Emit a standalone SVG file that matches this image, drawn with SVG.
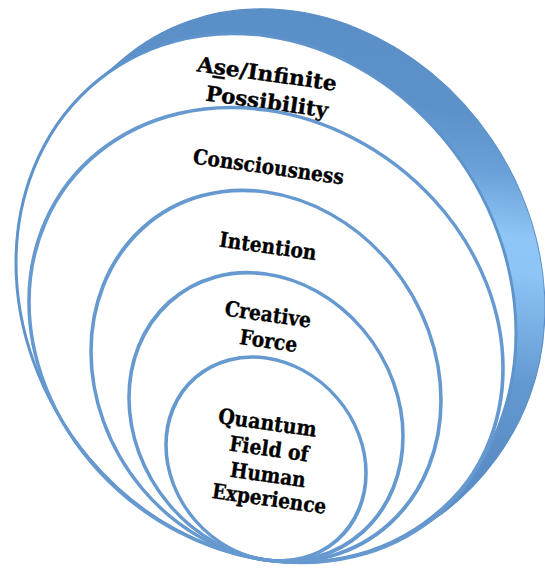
<svg xmlns="http://www.w3.org/2000/svg" width="545" height="569" viewBox="0 0 545 569">
<defs>
<linearGradient id="bandGrad" gradientUnits="userSpaceOnUse" x1="0" y1="0" x2="0" y2="560">
<stop offset="0" stop-color="#5a8ec7"/>
<stop offset="0.15" stop-color="#5c91ca"/>
<stop offset="0.25" stop-color="#6aa1d8"/>
<stop offset="0.36" stop-color="#8ec6f8"/>
<stop offset="0.42" stop-color="#8dc5f7"/>
<stop offset="0.52" stop-color="#78b0e5"/>
<stop offset="0.62" stop-color="#6399d1"/>
<stop offset="0.75" stop-color="#5b8ec7"/>
<stop offset="1" stop-color="#5a8cc5"/>
</linearGradient>
<style>
.ring{fill:none;stroke:#6699cf;stroke-width:3.6}
.front{fill:#ffffff;stroke:#5f93cb;stroke-width:3}
.band{fill:url(#bandGrad);stroke:#5b8dc5;stroke-width:1}
.lbl{font-family:"DejaVu Serif","Liberation Serif",serif;font-weight:bold;font-size:21px;fill:#000000;stroke:#000000;stroke-width:0.35;text-anchor:middle}
</style>
</defs>
<rect width="545" height="569" fill="#ffffff"/>
<g id="node-ase">
<g transform="translate(266 0) skewY(8) translate(-266 0)">
<path class="band" d="M 93.4 108.5 L 122.4 79.5 A 250 262 0 0 1 529.9 358.6 C 497.2 453.1 409.6 541.3 300.8 557.4 A 250 262 0 0 1 93.4 108.5 Z"/>
<ellipse class="front" cx="266" cy="298" rx="250" ry="262"/>
</g>
<text class="lbl" x="266" y="81" textLength="141" lengthAdjust="spacingAndGlyphs" transform="rotate(8 266 81)">A<tspan text-decoration="underline">s</tspan>e/Infinite</text>
<text class="lbl" x="266" y="109" textLength="123" lengthAdjust="spacingAndGlyphs" transform="rotate(8 266 109)">Possibility</text>
</g>
<g id="node-consciousness">
<g transform="translate(266 0) skewY(8) translate(-266 0)">
<ellipse class="ring" cx="266" cy="335" rx="237" ry="225"/>
</g>
<text class="lbl" x="267.5" y="174" textLength="152" lengthAdjust="spacingAndGlyphs" transform="rotate(8 267.5 174)">Consciousness</text>
</g>
<g id="node-intention">
<g transform="translate(266 0) skewY(8) translate(-266 0)">
<ellipse class="ring" cx="266" cy="376" rx="175" ry="184"/>
</g>
<text class="lbl" x="267" y="253.4" textLength="98" lengthAdjust="spacingAndGlyphs" transform="rotate(8 267 253.4)">Intention</text>
</g>
<g id="node-creative-force">
<g transform="translate(266 0) skewY(8) translate(-266 0)">
<ellipse class="ring" cx="266" cy="417" rx="137" ry="143"/>
</g>
<text class="lbl" x="267" y="321.6" textLength="87" lengthAdjust="spacingAndGlyphs" transform="rotate(8 267 321.6)">Creative</text>
<text class="lbl" x="267.5" y="348" textLength="58" lengthAdjust="spacingAndGlyphs" transform="rotate(8 267.5 348)">Force</text>
</g>
<g id="node-quantum-field">
<g transform="translate(266 0) skewY(8) translate(-266 0)">
<ellipse class="ring" cx="266" cy="459" rx="100" ry="101"/>
</g>
<text class="lbl" x="266.5" y="430" textLength="99" lengthAdjust="spacingAndGlyphs" transform="rotate(8 266.5 430)">Quantum</text>
<text class="lbl" x="268" y="456" textLength="80" lengthAdjust="spacingAndGlyphs" transform="rotate(8 268 456)">Field of</text>
<text class="lbl" x="267" y="482" textLength="76" lengthAdjust="spacingAndGlyphs" transform="rotate(8 267 482)">Human</text>
<text class="lbl" x="268.3" y="506" textLength="115" lengthAdjust="spacingAndGlyphs" transform="rotate(8 268.3 506)">Experience</text>
</g>
<g id="connectors"/>
</svg>
